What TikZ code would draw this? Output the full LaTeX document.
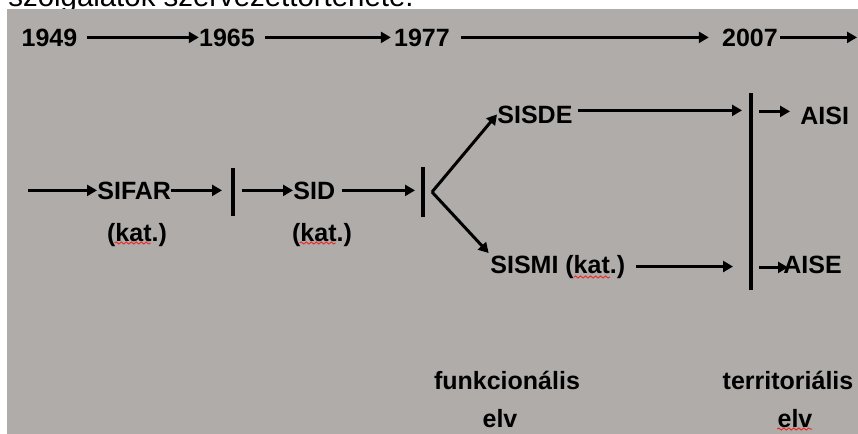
\documentclass[tikz,border=0pt]{standalone}
\usepackage{fontspec}
\setmainfont{Liberation Sans}
\usepackage{tikz}
\usetikzlibrary{arrows.meta}
\usetikzlibrary{calc}
\usetikzlibrary{decorations.pathmorphing}
\definecolor{slidegray}{RGB}{176,172,169}
\definecolor{spellred}{RGB}{235,45,45}

\begin{document}
\begin{tikzpicture}[x=0.5pt, y=-0.5pt,
        lbl/.style={font=\fontsize{12.5}{15}\selectfont\bfseries, inner sep=0pt, anchor=base},
        arr/.style={line width=1.5pt, -{Triangle[length=5pt,width=5.5pt]}},
        bar/.style={line width=2pt},
        wavy/.style={spellred, line width=0.5pt, decorate, decoration={snake, amplitude=0.5pt, segment length=2.5pt}}]
            \useasboundingbox (0,0) rectangle (858,434);
            \begin{scope}
                \clip (0,0) rectangle (858,9);
                \node[font=\fontsize{14.7}{17}\selectfont, inner sep=0pt, anchor=base west] (title) at (8,6.5) {szolgálatok szervezettörténete.};
            \end{scope}
            \fill[slidegray] (7,9) rectangle (858,434);

            \node[lbl] (y1949) at (49.5,46) {1949};
            \node[lbl] (y1965) at (227,46) {1965};
            \node[lbl] (y1977) at (422,46) {1977};
            \node[lbl] (y2007) at (750,46) {2007};
            \coordinate (yend) at (857,0);

            \coordinate (start) at (28,0);
            \node[lbl, anchor=base west] (sifar) at (97,199) {SIFAR};
            \node[lbl] (kat1) at (137,241) {(kat.)};
            \coordinate (b1t) at (233,168);
            \coordinate (b1b) at (233,216);
            \node[lbl, anchor=base west] (sid) at (293,199) {SID};
            \node[lbl] (kat2) at (322,241) {(kat.)};
            \coordinate (b2t) at (423,167);
            \coordinate (b2b) at (423,217);
            \coordinate (fork) at (432,192);
            \node[lbl, anchor=base west] (sisde) at (497,123) {SISDE};
            \node[lbl, anchor=base west] (sismi) at (490,273) {SISMI (kat.)};
            \coordinate (b3t) at (751,93);
            \coordinate (b3b) at (751,290);
            \node[lbl, anchor=base west] (aisi) at (800,124) {AISI};
            \node[lbl, anchor=base west] (aise) at (783,273) {AISE};

            \node[lbl] (funk) at (507,389) {funkcionális};
            \node[lbl] (elv1) at (500,427) {elv};
            \node[lbl] (terr) at (788,389) {territoriális};
            \node[lbl] (elv2) at (795,427) {elv};

            \draw[arr, shorten <=4.5pt] (y1949.east) -- (y1965.west);
            \draw[arr, shorten <=5pt, shorten >=1.5pt] (y1965.east) -- (y1977.west);
            \draw[arr, shorten <=5.5pt, shorten >=6.5pt] (y1977.east) -- (y2007.west);
            \draw[arr, shorten <=1pt] (y2007.east) -- (y2007.east -| yend);

            \draw[arr] (start |- sifar.west) -- (sifar.west);
            \draw[arr, shorten >=5.5pt] (sifar.east) -- (sifar.east -| b1t);
            \draw[bar] (b1t) -- (b1b);
            \draw[arr, shorten <=4.5pt] (sid.west -| b1t) -- (sid.west);
            \draw[arr, shorten <=3.5pt, shorten >=4pt] (sid.east) -- (sid.east -| b2t);
            \draw[bar] (b2t) -- (b2b);
            \draw[arr] (fork) -- (sisde.west);
            \draw[arr, shorten >=1pt] (fork) -- (sismi.north west);
            \draw[arr, shorten <=2.5pt, shorten >=4.5pt] ([yshift=2pt]sisde.east) -- ([yshift=2pt]sisde.east -| b3t);
            \draw[bar] (b3t) -- (b3b);
            \draw[arr, shorten <=4pt, shorten >=5pt] ([yshift=2pt]aisi.west -| b3t) -- ([yshift=2pt]aisi.west);
            \draw[arr, shorten <=5pt, shorten >=9pt] (sismi.east) -- (sismi.east -| b3t);
            \draw[arr, shorten <=4pt, shorten >=-2.5pt] ([yshift=-1.5pt]aise.west -| b3t) -- ([yshift=-1.5pt]aise.west);

            \draw[wavy] ($(kat1.base west)+(8,2)$) -- ++(36,0);
            \draw[wavy] ($(kat2.base west)+(8,2)$) -- ++(36,0);
            \draw[wavy] ($(sismi.base west)+(84,4)$) -- ++(36,0);
            \draw[wavy] ($(elv2.base west)+(0,2)$) -- ++(35,0);
        \end{tikzpicture}
\end{document}
